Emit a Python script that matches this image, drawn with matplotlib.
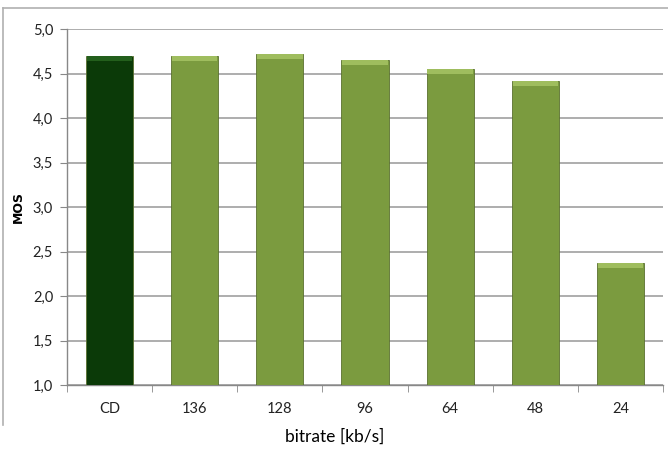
import numpy as np
import matplotlib.pyplot as plt
from matplotlib.lines import Line2D

categories = ['CD', '136', '128', '96', '64', '48', '24']
mos = [4.70, 4.70, 4.72, 4.65, 4.55, 4.42, 2.37]
colors = ['#0b3a08', '#7b9b3f', '#7b9b3f', '#7b9b3f', '#7b9b3f', '#7b9b3f', '#7b9b3f']
tops = ['#235f1c', '#9fbd5e', '#9fbd5e', '#9fbd5e', '#9fbd5e', '#9fbd5e', '#9fbd5e']

plt.rcParams['font.family'] = ['Lato', 'DejaVu Sans']

fig = plt.figure(figsize=(6.68, 4.5), dpi=100)
ax = fig.add_axes([67 / 668, 65 / 450, 596 / 668, 356 / 450])

x = np.arange(len(categories))
w = 0.555
ax.bar(x, np.array(mos) - 1.0, bottom=1.0, width=w, color=colors,
       edgecolor='#5a7030', linewidth=0.6, zorder=3)
# lighter bevel strip on top of each bar
ax.bar(x, 0.06, bottom=np.array(mos) - 0.06, width=w * 0.96, color=tops,
       linewidth=0, zorder=4)

ax.set_xlim(-0.5, len(categories) - 0.5)
ax.set_ylim(1.0, 5.0)
yt = np.arange(1.0, 5.01, 0.5)
ax.set_yticks(yt)
ax.set_yticklabels([f'{v:.1f}'.replace('.', ',') for v in yt])
ax.set_xticks(x)
ax.set_xticklabels(categories)
ax.set_xticks(np.arange(-0.5, len(categories)), minor=True)
ax.tick_params(axis='x', which='major', length=0, pad=12, labelsize=10.5, colors='#222222')
ax.tick_params(axis='x', which='minor', length=5, color='#888888')
ax.tick_params(axis='y', length=5, color='#888888', labelsize=10.5, labelcolor='#222222', pad=5)

ax.grid(axis='y', color='#a0a0a0', linewidth=1.2, zorder=0)
ax.set_axisbelow(True)
for s in ['top', 'right']:
    ax.spines[s].set_visible(False)
for s in ['left', 'bottom']:
    ax.spines[s].set_color('#888888')
    ax.spines[s].set_linewidth(1.0)

ax.set_ylabel('MOS', fontsize=9, fontweight='bold', family='DejaVu Sans', labelpad=6)
fig.text(335 / 668, 1 - 437 / 450, 'bitrate [kb/s]', ha='center', va='center', fontsize=12.5)

# outer chart frame
fig.add_artist(Line2D([3 / 668, 1.0], [1 - 8 / 450, 1 - 8 / 450], color='#b0b0b0', linewidth=1.2))
fig.add_artist(Line2D([3 / 668, 3 / 668], [1 - 8 / 450, 1 - 425 / 450], color='#b0b0b0', linewidth=1.2))

fig.savefig('out.png', dpi=100)
